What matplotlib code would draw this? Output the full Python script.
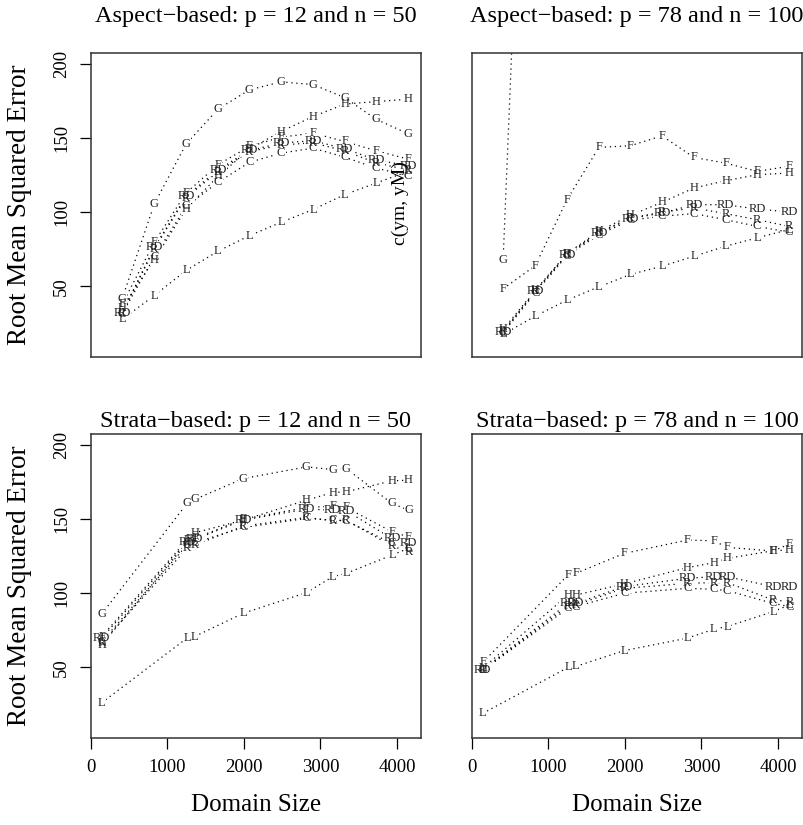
import numpy as np
import matplotlib.pyplot as plt

plt.rcParams.update({
    'font.family': 'Liberation Serif',
    'axes.linewidth': 1.1,
    'axes.edgecolor': '#333333',
})

LABELS = ['G', 'H', 'F', 'RD', 'R', 'C', 'L']
nan = np.nan

# domain sizes
X_ASPECT = [407, 828, 1242, 1660, 2070, 2484, 2902, 3316, 3726, 4145]
X_STRATA = [140, 1255, 1355, 1990, 2815, 3160, 3335, 3935, 4150]

# rows follow LABELS order: G, H, F, RD, R, C, L
ASPECT_12 = [
    [41.7, 105.7, 146.1, 169.7, 182.7, 188.1, 186.3, 177.5, 162.9, 153.1],
    [35.6, 68.2, 102.3, 124.3, 142.7, 154.6, 164.7, 173.1, 174.8, 176.4],
    [37.9, 79.9, 113.1, 132.2, 144.5, 150.8, 153.5, 147.9, 141.6, 136.0],
    [32.2, 76.5, 110.8, 128.8, 141.8, 146.8, 148.4, 143.0, 135.5, 131.5],
    [32.0, 75.5, 110.0, 127.5, 141.0, 145.5, 147.0, 141.5, 133.5, 128.5],
    [31.5, 70.0, 104.0, 120.3, 133.8, 140.0, 143.4, 137.3, 129.9, 124.8],
    [27.8, 43.9, 60.8, 73.8, 84.3, 93.3, 101.9, 112.0, 119.8, 127.7],
]
ASPECT_78 = [
    [68.2, 597, nan, nan, nan, nan, nan, nan, nan, nan],
    [21.0, 47.5, 72.2, 87.3, 98.0, 106.8, 116.5, 121.4, 125.4, 126.6],
    [48.4, 64.1, 108.6, 143.9, 145.0, 151.7, 137.1, 133.3, 127.7, 131.1],
    [19.2, 46.8, 71.5, 86.1, 95.8, 99.6, 105.2, 105.2, 102.3, 100.3],
    [19.8, 46.8, 71.9, 86.5, 96.3, 100.1, 103.0, 99.2, 95.1, 90.6],
    [18.8, 45.7, 70.9, 85.0, 94.7, 97.4, 99.2, 95.1, 90.6, 86.6],
    [17.7, 30.0, 40.8, 49.8, 58.1, 63.7, 70.4, 77.2, 82.8, 88.4],
]
STRATA_12 = [
    [86.1, 160.7, 163.4, 177.5, 185.4, 183.6, 184.3, 160.7, 156.2],
    [65.3, 134.2, 140.9, 149.5, 162.9, 168.1, 168.6, 176.0, 176.4],
    [70.9, 136.0, 137.1, 150.1, 158.0, 158.9, 158.0, 141.6, 138.2],
    [69.8, 134.9, 136.4, 149.5, 156.9, 156.2, 155.8, 137.1, 133.8],
    [66.4, 130.4, 132.6, 145.4, 151.3, 149.0, 149.5, 132.0, 128.1],
    [67.5, 132.6, 134.2, 144.5, 150.6, 149.5, 149.0, 133.8, 129.7],
    [26.2, 69.8, 70.9, 86.6, 100.5, 111.3, 113.5, 125.9, 130.4],
]
STRATA_78 = [
    [nan] * 9,
    [49.5, 98.9, 98.9, 106.4, 117.4, 120.7, 123.6, 128.8, 129.3],
    [53.4, 112.4, 113.5, 127.0, 136.0, 135.5, 131.1, 128.6, 133.3],
    [48.4, 93.3, 93.3, 104.6, 110.2, 111.3, 111.3, 104.6, 104.1],
    [48.4, 91.5, 92.2, 103.4, 106.8, 107.3, 107.3, 95.6, 94.5],
    [48.0, 90.0, 91.1, 100.1, 103.4, 102.8, 101.9, 93.3, 91.1],
    [19.0, 50.0, 50.7, 61.4, 69.8, 75.8, 77.6, 87.7, 92.2],
]

PANELS = [
    ('Aspect\u2212based: p = 12 and n = 50', X_ASPECT, ASPECT_12),
    ('Aspect\u2212based: p = 78 and n = 100', X_ASPECT, ASPECT_78),
    ('Strata\u2212based: p = 12 and n = 50', X_STRATA, STRATA_12),
    ('Strata\u2212based: p = 78 and n = 100', X_STRATA, STRATA_78),
]

YLIM = (2.4, 207.6)
W, H = 804, 825
fig = plt.figure(figsize=(W / 100, H / 100), dpi=100)
boxes = [(91, 53, 421, 357), (472, 53, 802, 357),
         (91, 434, 421, 738), (472, 434, 802, 738)]

for i, ((title, x, series), (x0, y0, x1, y1)) in enumerate(zip(PANELS, boxes)):
    ax = fig.add_axes([x0 / W, 1 - y1 / H, (x1 - x0) / W, (y1 - y0) / H])
    for lab, ys in zip(LABELS, series):
        ax.plot(x, ys, color='black', lw=0.9, ls=(0, (1, 3)), zorder=1)
        for xi, yi in zip(x, ys):
            if np.isnan(yi) or not YLIM[0] < yi < YLIM[1]:
                continue
            # white patch to break the line around the letter
            ax.text(xi, yi, lab, ha='center', va='center', fontsize=9,
                    color='white', zorder=2, clip_on=True,
                    bbox=dict(fc='white', ec='none', pad=0.3))
            ax.text(xi, yi, lab, ha='center', va='center', fontsize=9,
                    color='#222222', zorder=3, clip_on=True)
    ax.set_xlim(0, 4314)
    ax.set_ylim(*YLIM)
    ax.set_xticks([0, 1000, 2000, 3000, 4000])
    ax.set_yticks([50, 100, 150, 200])
    ax.tick_params(direction='out', length=8, width=0.9, labelsize=13.5,
                   color='black', pad=7)
    plt.setp(ax.get_yticklabels(), rotation=90, va='center')
    top = i < 2
    left = i % 2 == 0
    if top:
        ax.tick_params(bottom=False, labelbottom=False)
    else:
        ax.set_xlabel('Domain Size', fontsize=18, labelpad=13)
    if left:
        ax.set_ylabel('Root Mean Squared Error', fontsize=19.5)
        ax.yaxis.set_label_coords(-0.178, 0.5)
    else:
        ax.tick_params(left=False, labelleft=False)
    ax.set_title(title, fontsize=17.5, pad=22 if top else 5)
    if i == 0:
        ax.text(0.936, 0.507, 'c(ym, yM)', rotation=90, fontsize=14,
                ha='center', va='center', transform=ax.transAxes)

fig.savefig('out.png', dpi=100)
